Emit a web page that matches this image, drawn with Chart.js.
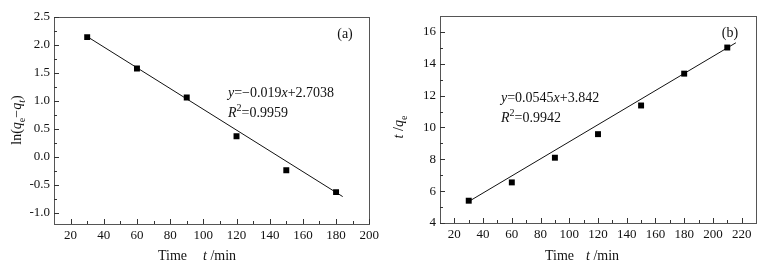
<!DOCTYPE html>
<html>
<head>
<meta charset="utf-8">
<script src="https://cdn.jsdelivr.net/npm/chart.js@4.4.0/dist/chart.umd.min.js"></script>
<style>
  html, body { margin: 0; padding: 0; background: #fff; }
  .panel { position: absolute; top: 0; width: 383px; height: 267px; }
</style>
</head>
<body>
<div class="panel" style="left:0"><canvas id="chartA" width="383" height="267"></canvas></div>
<div class="panel" style="left:383px"><canvas id="chartB" width="383" height="267"></canvas></div>
<script>
// (a) pseudo-first-order: ln(qe - qt) vs time
const timeA = [30, 60, 90, 120, 150, 180];
const lnA = [2.14, 1.58, 1.06, 0.37, -0.24, -0.63];
const fitXA = [30, 184];
const fitYA = [2.15, -0.71];
const xTicksA = [20, 40, 60, 80, 100, 120, 140, 160, 180, 200];
const yTicksA = [-1.0, -0.5, 0.0, 0.5, 1.0, 1.5, 2.0, 2.5];

// (b) pseudo-second-order: t/qe vs time
const timeB = [30, 60, 90, 120, 150, 180, 210];
const tqB = [5.4, 6.55, 8.1, 9.58, 11.38, 13.38, 15.02];
const fitXB = [30, 216];
const fitYB = [5.35, 15.32];
const xTicksB = [20, 40, 60, 80, 100, 120, 140, 160, 180, 200, 220];
const yTicksB = [4, 6, 8, 10, 12, 14, 16];

const SERIF = '"Liberation Serif", "Times New Roman", serif';

// draw a run of text pieces (italic / sub / sup) starting at x
function runWidth(ctx, runs, size) {
  let w = 0;
  runs.forEach(r => {
    const s = (r.sub || r.sup) ? size * 0.72 : size;
    ctx.font = (r.it ? 'italic ' : '') + s + 'px ' + SERIF;
    w += ctx.measureText(r.t).width;
  });
  return w;
}
function drawRuns(ctx, x, y, runs, size) {
  ctx.textBaseline = 'alphabetic';
  ctx.textAlign = 'left';
  runs.forEach(r => {
    const s = (r.sub || r.sup) ? size * 0.72 : size;
    ctx.font = (r.it ? 'italic ' : '') + s + 'px ' + SERIF;
    let dy = 0;
    if (r.sub) dy = size * 0.3;
    if (r.sup) dy = -size * 0.4;
    ctx.fillText(r.t, x, y + dy);
    x += ctx.measureText(r.t).width;
  });
}

const decor = {
  id: 'decor',
  afterDraw(chart, args, opts) {
    const ctx = chart.ctx;
    const a = chart.chartArea;
    const xs = chart.scales.x, ys = chart.scales.y;
    ctx.save();
    // frame
    ctx.strokeStyle = '#555';
    ctx.lineWidth = 1;
    ctx.strokeRect(Math.round(a.left) + 0.5, Math.round(a.top) + 0.5,
      Math.round(a.right - a.left), Math.round(a.bottom - a.top));
    // inward ticks, major and minor
    ctx.strokeStyle = '#333';
    ctx.beginPath();
    const xt = opts.xTicks, yt = opts.yTicks;
    const xStep = xt[1] - xt[0], yStep = yt[1] - yt[0];
    xt.forEach(v => {
      const px = Math.round(xs.getPixelForValue(v)) + 0.5;
      ctx.moveTo(px, a.bottom); ctx.lineTo(px, a.bottom - 5);
    });
    for (let v = xt[0] - xStep / 2; v < xs.max; v += xStep) {
      if (v <= xs.min) continue;
      const px = Math.round(xs.getPixelForValue(v)) + 0.5;
      ctx.moveTo(px, a.bottom); ctx.lineTo(px, a.bottom - 3);
    }
    yt.forEach(v => {
      const py = Math.round(ys.getPixelForValue(v)) + 0.5;
      ctx.moveTo(a.left, py); ctx.lineTo(a.left + 5, py);
    });
    for (let v = yt[0] - yStep / 2; v < ys.max; v += yStep) {
      if (v <= ys.min) continue;
      const py = Math.round(ys.getPixelForValue(v)) + 0.5;
      ctx.moveTo(a.left, py); ctx.lineTo(a.left + 3, py);
    }
    ctx.stroke();

    ctx.fillStyle = '#111';
    // panel label
    ctx.font = '14px ' + SERIF;
    ctx.textAlign = 'center';
    ctx.textBaseline = 'middle';
    ctx.fillText(opts.label[0], opts.label[1], opts.label[2]);
    // equation lines
    opts.notes.forEach(n => drawRuns(ctx, n.x, n.y, n.runs, 14));
    // x title
    drawRuns(ctx, opts.xTitle.x, opts.xTitle.y, [{ t: 'Time' }], 14);
    drawRuns(ctx, opts.xTitle.x2, opts.xTitle.y, [{ t: 't', it: true }, { t: ' /min' }], 14);
    // y title, rotated
    ctx.translate(opts.yTitle.x, opts.yTitle.y);
    ctx.rotate(-Math.PI / 2);
    const w = runWidth(ctx, opts.yTitle.runs, 14);
    drawRuns(ctx, -w / 2, 5, opts.yTitle.runs, 14);
    ctx.restore();
  }
};

function makeChart(id, cfg) {
  const tickFont = { family: SERIF, size: 13 };
  return new Chart(document.getElementById(id), {
    type: 'scatter',
    data: {
      datasets: [
        {
          data: cfg.xs.map((x, i) => ({ x: x, y: cfg.ys[i] })),
          pointStyle: 'rect',
          pointRadius: 4.2,
          backgroundColor: '#000',
          borderColor: '#000',
          borderWidth: 0
        },
        {
          type: 'line',
          data: cfg.fx.map((x, i) => ({ x: x, y: cfg.fy[i] })),
          borderColor: '#111',
          borderWidth: 1,
          pointRadius: 0,
          fill: false
        }
      ]
    },
    options: {
      responsive: false,
      animation: false,
      layout: { padding: { top: cfg.top, right: cfg.right, left: 0, bottom: 0 } },
      plugins: {
        legend: { display: false },
        tooltip: { enabled: false },
        decor: cfg.decor
      },
      scales: {
        x: {
          type: 'linear',
          min: cfg.xMin,
          max: cfg.xMax,
          afterFit: s => { s.height = cfg.xH; },
          afterBuildTicks: s => { s.ticks = cfg.decor.xTicks.map(v => ({ value: v })); },
          ticks: { font: tickFont, color: '#111', padding: 4, maxRotation: 0 },
          grid: { display: false, drawTicks: false },
          border: { display: false }
        },
        y: {
          type: 'linear',
          min: cfg.yMin,
          max: cfg.yMax,
          afterFit: s => { s.width = cfg.yW; },
          afterBuildTicks: s => { s.ticks = cfg.decor.yTicks.map(v => ({ value: v })); },
          ticks: { font: tickFont, color: '#111', padding: 4, callback: cfg.yFmt },
          grid: { display: false, drawTicks: false },
          border: { display: false }
        }
      }
    },
    plugins: [decor]
  });
}

makeChart('chartA', {
  xs: timeA, ys: lnA, fx: fitXA, fy: fitYA,
  xMin: 10, xMax: 200, yMin: -1.2, yMax: 2.5,
  top: 17, right: 13, xH: 43, yW: 54,
  yFmt: v => v.toFixed(1),
  decor: {
    xTicks: xTicksA, yTicks: yTicksA,
    label: ['(a)', 345, 34],
    notes: [
      { x: 228, y: 97, runs: [{ t: 'y', it: true }, { t: '=\u22120.019' }, { t: 'x', it: true }, { t: '+2.7038' }] },
      { x: 228, y: 117, runs: [{ t: 'R', it: true }, { t: '2', sup: true }, { t: '=0.9959' }] }
    ],
    xTitle: { x: 158, x2: 203, y: 260 },
    yTitle: { x: 16, y: 120, runs: [{ t: 'ln(' }, { t: 'q', it: true }, { t: 'e', sub: true }, { t: '\u2212' }, { t: 'q', it: true }, { t: 't', it: true, sub: true }, { t: ')' }] }
  }
});

makeChart('chartB', {
  xs: timeB, ys: tqB, fx: fitXB, fy: fitYB,
  xMin: 10, xMax: 230, yMin: 4, yMax: 17,
  top: 16, right: 10, xH: 44, yW: 57,
  yFmt: v => String(v),
  decor: {
    xTicks: xTicksB, yTicks: yTicksB,
    label: ['(b)', 347, 33],
    notes: [
      { x: 118, y: 102, runs: [{ t: 'y', it: true }, { t: '=0.0545' }, { t: 'x', it: true }, { t: '+3.842' }] },
      { x: 118, y: 122, runs: [{ t: 'R', it: true }, { t: '2', sup: true }, { t: '=0.9942' }] }
    ],
    xTitle: { x: 162, x2: 203, y: 260 },
    yTitle: { x: 15, y: 127, runs: [{ t: 't', it: true }, { t: ' /' }, { t: 'q', it: true }, { t: 'e', sub: true }] }
  }
});
</script>
</body>
</html>
